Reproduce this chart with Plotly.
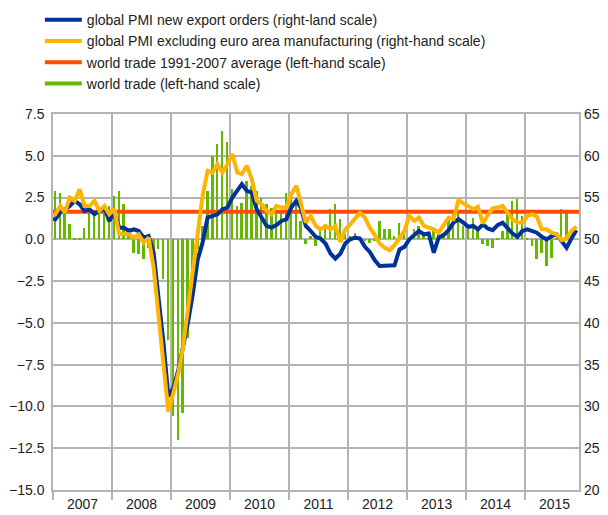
import pandas as pd
import plotly.graph_objects as go

# ---------------- data ----------------
# monthly lines: Dec 2006 .. Nov 2015 (right-hand scale, PMI index)
line_months = pd.period_range("2006-12", "2015-11", freq="M")

pmi_export_orders = [
    52.6,
    52.4, 53.2, 53.6, 54.0, 54.6, 54.2, 53.4, 53.6, 53.0, 53.4, 53.8, 52.2,   # 2007
    53.2, 51.4, 51.4, 51.0, 51.2, 51.0, 50.2, 50.4, 48.4, 43.0, 37.6, 31.2,   # 2008
    32.2, 34.4, 36.8, 40.0, 43.4, 47.6, 49.6, 52.6, 52.8, 53.0, 53.6, 53.8,   # 2009
    55.0, 55.8, 56.6, 55.8, 55.6, 53.6, 52.6, 51.6, 51.4, 51.7, 52.2, 52.4,   # 2010
    53.8, 54.6, 53.8, 51.6, 51.0, 50.3, 50.1, 49.5, 48.3, 47.7, 48.3, 49.5,   # 2011
    50.0, 50.2, 50.1, 49.1, 48.5, 47.5, 46.8, 46.8, 46.9, 46.9, 48.8, 49.1,   # 2012
    50.0, 50.5, 51.0, 50.6, 50.7, 48.4, 50.2, 50.5, 51.1, 52.0, 52.4, 52.0,   # 2013
    51.5, 51.6, 51.2, 51.8, 51.3, 51.1, 51.7, 52.0, 51.3, 50.7, 50.3, 51.0,   # 2014
    51.2, 51.0, 50.8, 50.3, 50.0, 50.4, 50.6, 49.8, 49.0, 50.1, 51.1,         # 2015
]

pmi_ex_euro_area = [
    52.6,
    53.0, 54.0, 53.2, 55.0, 54.6, 56.0, 54.0, 54.0, 54.6, 53.4, 54.0, 53.0,   # 2007
    53.6, 50.6, 50.6, 50.6, 50.2, 50.6, 49.6, 50.2, 46.6, 40.8, 35.0, 29.4,   # 2008
    31.6, 34.0, 37.0, 41.6, 46.0, 50.4, 55.2, 58.2, 58.0, 59.0, 58.0, 59.0,   # 2009
    60.2, 58.0, 57.8, 58.8, 57.2, 54.6, 54.2, 53.4, 53.0, 54.0, 53.8, 53.8,   # 2010
    55.4, 56.4, 54.2, 52.0, 52.8, 51.6, 51.2, 51.6, 51.2, 51.6, 49.7, 51.2,   # 2011
    51.8, 52.6, 53.2, 52.6, 51.4, 50.5, 49.5, 49.0, 48.7, 49.3, 50.2, 51.0,   # 2012
    52.8, 52.2, 52.6, 51.6, 51.4, 51.2, 50.8, 51.6, 52.6, 52.4, 54.7, 54.3,   # 2013
    54.0, 53.6, 53.9, 51.9, 52.9, 53.7, 53.8, 54.0, 53.2, 52.4, 52.0, 52.0,   # 2014
    52.8, 53.0, 52.7, 51.2, 51.2, 50.8, 50.6, 49.9, 50.1, 51.0, 51.5,         # 2015
]

# monthly bars: Jan 2007 .. Sep 2015 (left-hand scale, %)
bar_months = pd.period_range("2007-01", "2015-09", freq="M")
world_trade = [
    2.9, 2.8, 1.8, 0.9, 0.1, 0.1, 0.7, 1.7, 1.5, 1.9, 1.8, 2.0,              # 2007
    2.6, 2.9, 2.1, 0.7, -0.8, -0.9, -1.2, -0.5, -0.7, -0.6, -2.4, -6.0,      # 2008
    -10.6, -12.0, -10.4, -5.9, -3.1, -0.6, 0.8, 2.9, 5.0, 5.7, 6.5, 5.8,     # 2009
    3.0, 2.0, 2.2, 3.5, 3.2, 2.9, 2.5, 2.1, 1.9, 1.5, 1.6, 2.8,              # 2010
    2.6, 2.3, 1.1, -0.3, 0.2, -0.4, 0.6, 0.9, 1.8, 2.1, 1.2, 0.3,            # 2011
    0.2, 0.4, 0.1, -0.1, -0.2, -0.1, 1.1, 0.6, 0.6, 0.2, 1.0, 0.4,           # 2012
    0.1, 0.6, 0.8, 0.3, 0.1, 0.5, 0.5, 0.4, 1.3, 1.7, 1.6, 0.8,              # 2013
    0.6, 1.3, 0.5, -0.3, -0.4, -0.5, 0.1, 0.5, 1.6, 2.3, 2.4, 1.4,           # 2014
    0.1, -0.4, -1.2, -0.8, -1.6, -1.1, 0.1, 1.8, 1.7,                        # 2015
]

world_trade_avg_1991_2007 = 1.65
avg_span = ["2006-12-01", "2016-01-01"]

names = [
    "global PMI new export orders (right-land scale)",
    "global PMI excluding euro area manufacturing (right-hand scale)",
    "world trade 1991-2007 average (left-hand scale)",
    "world trade (left-hand scale)",
]

# ---------------- styling ----------------
BLUE = "#003299"
YELLOW = "#FFB400"
RED = "#FF4B00"
GREEN = "#65B800"
GRID = "#b4b4b4"
TXT = "#222222"
FONT = "Liberation Sans, Arial, sans-serif"

line_x = line_months.to_timestamp() + pd.Timedelta(days=14)
bar_x = bar_months.to_timestamp() + pd.Timedelta(days=14)

fig = go.Figure()

fig.add_trace(go.Bar(
    x=bar_x, y=world_trade, marker=dict(color=GREEN, line=dict(width=0)),
    width=1.0e9, showlegend=False, yaxis="y", name=names[3],
))
fig.add_trace(go.Scatter(
    x=avg_span, y=[world_trade_avg_1991_2007] * 2, mode="lines",
    line=dict(color=RED, width=4), name=names[2], legendrank=3, yaxis="y",
))
fig.add_trace(go.Scatter(
    x=line_x, y=pmi_export_orders, mode="lines",
    line=dict(color=BLUE, width=4), name=names[0], legendrank=1, yaxis="y2",
))
fig.add_trace(go.Scatter(
    x=line_x, y=pmi_ex_euro_area, mode="lines",
    line=dict(color=YELLOW, width=4), name=names[1], legendrank=2, yaxis="y2",
))
# legend entry for the bars (shown as a line, like the original)
fig.add_trace(go.Scatter(
    x=[None], y=[None], mode="lines", line=dict(color=GREEN, width=4),
    name=names[3], legendrank=4, yaxis="y",
))

fig.update_layout(
    width=608, height=515,
    margin=dict(l=53, r=29, t=113.5, b=25, pad=0, autoexpand=False),
    paper_bgcolor="white", plot_bgcolor="white",
    font=dict(family=FONT, size=14, color=TXT),
    bargap=0,
    showlegend=True,
    legend=dict(
        x=-0.025, xanchor="left", y=1.292, yanchor="top",
        bgcolor="rgba(0,0,0,0)", borderwidth=0,
        font=dict(family=FONT, size=14, color=TXT),
        itemwidth=37, traceorder="normal",
    ),
    xaxis=dict(
        type="date", range=["2007-01-01", "2015-12-01"],
        tick0="2007-01-01", dtick="M12", tickformat="%Y", ticklabelmode="period",
        showgrid=True, gridcolor=GRID, gridwidth=1.5,
        ticks="outside", ticklen=8, tickwidth=1.5, tickcolor=GRID,
        showline=True, linecolor=GRID, linewidth=1.5, mirror=True,
        tickfont=dict(size=14, color=TXT), ticklabelstandoff=-8,
        zeroline=False, automargin=False,
    ),
    yaxis=dict(
        range=[-15, 7.5], tick0=0, dtick=2.5, tickformat=".1f",
        showgrid=True, gridcolor=GRID, gridwidth=1.5, zeroline=False,
        showline=True, linecolor=GRID, linewidth=1.5, mirror=True,
        ticks="", tickfont=dict(size=14, color=TXT), ticklabelstandoff=4,
        automargin=False,
    ),
    yaxis2=dict(
        overlaying="y", side="right", range=[20, 65], tick0=20, dtick=5,
        showgrid=False, zeroline=False, showline=False,
        ticks="", tickfont=dict(size=14, color=TXT), ticklabelstandoff=4,
        automargin=False,
    ),
)

fig.write_html("out.html", config={"displayModeBar": False},
               post_script="document.body.style.margin='0';")
